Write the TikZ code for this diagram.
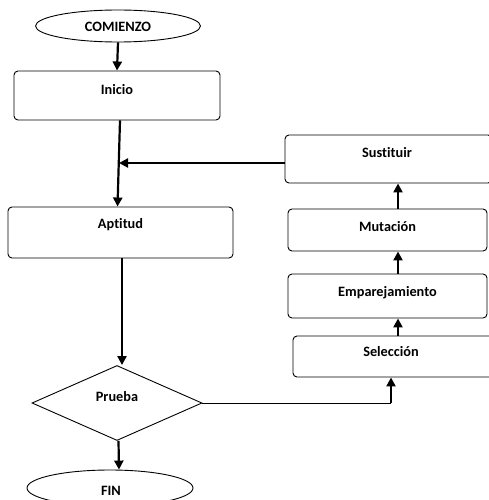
\documentclass[tikz,border=0pt]{standalone}
\usepackage{fontspec}
\setmainfont{Carlito}[Ligatures=NoCommon]
\usetikzlibrary{shapes.geometric,arrows.meta}
\begin{document}
\begin{tikzpicture}[x=1pt,y=-1pt,
  box/.style={draw,line width=0.9pt,rounded corners=4pt,inner sep=0pt},
  lbl/.style={font=\fontsize{14.3}{16}\selectfont\bfseries,inner sep=0pt},
  oval/.style={draw,line width=0.9pt,ellipse,inner sep=0pt},
  arr/.style={line width=2.2pt,-{Triangle[length=9pt,width=9pt]}},
  thin/.style={line width=0.9pt}]
\useasboundingbox (0,0) rectangle (489,500);
% start/end ovals
\node[oval,minimum width=165pt,minimum height=32pt] (start) at (118,26) {};
\node[lbl] (startT) at (118,27) {COMIENZO};
\node[oval,minimum width=166pt,minimum height=36pt] (fin) at (110,488) {};
\node[lbl] (finT) at (111,491) {FIN};
% left boxes
\node[box,minimum width=206pt,minimum height=49pt] (inicio) at (117,95.5) {};
\node[lbl] (inicioT) at (117,90) {Inicio};
\node[box,minimum width=225pt,minimum height=51pt] (apt) at (120.5,232.5) {};
\node[lbl] (aptT) at (120.5,225) {Aptitud};
% diamond
\node[draw,line width=0.9pt,diamond,inner sep=0pt,minimum width=170pt,minimum height=75pt] (prueba) at (117,403) {};
\node[lbl] (pruebaT) at (117,397) {Prueba};
% right boxes
\node[box,minimum width=207pt,minimum height=48pt] (sust) at (388.5,159) {};
\node[lbl] (sustT) at (387,153) {Sustituir};
\node[box,minimum width=199pt,minimum height=42pt] (mut) at (387.5,230) {};
\node[lbl] (mutT) at (387.5,227) {Mutación};
\node[box,minimum width=199pt,minimum height=44pt] (emp) at (387.5,296) {};
\node[lbl] (empT) at (387.5,293) {Emparejamiento};
\node[box,minimum width=200pt,minimum height=41pt] (sel) at (393,356.5) {};
\node[lbl] (selT) at (391,352) {Selección};
% helper coordinates
\coordinate (m) at (119,163);
\coordinate (xr) at (398,0);
\coordinate (xs) at (391,0);
% connectors
\draw[arr] (start.south) -- (inicio.north);
\draw[arr] ([xshift=3pt]inicio.south) -- ([xshift=-3pt]apt.north);
\draw[arr] (sust.west |- m) -- (m);
\draw[arr] ([xshift=1.5pt]apt.south) -- ([xshift=5pt]prueba.north);
\draw[arr] ([xshift=1.5pt]prueba.south) -- ([xshift=9pt]fin.north);
\draw[thin] (prueba.east) -- (prueba.east -| xs);
\draw[arr] (prueba.east -| xs) -- (sel.south -| xs);
\draw[arr] (sel.north -| xr) -- (emp.south -| xr);
\draw[arr] (emp.north -| xr) -- (mut.south -| xr);
\draw[arr] (mut.north -| xr) -- (sust.south -| xr);
\end{tikzpicture}
\end{document}
